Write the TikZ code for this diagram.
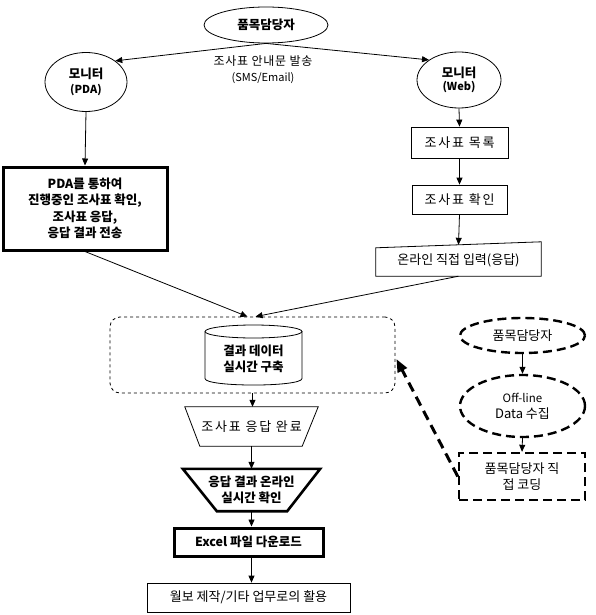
\documentclass[tikz,border=0pt]{standalone}
\usepackage{fontspec}
\setmainfont{Noto Sans CJK KR}
\usetikzlibrary{shapes.geometric,arrows.meta,calc}
\begin{document}
\begin{tikzpicture}[x=1pt,y=-1pt,
  arr/.style={-{Triangle[length=7pt,width=6pt]}, line width=0.8pt},
  bigarr/.style={-{Triangle[length=13pt,width=10pt]}, line width=3pt, dash pattern=on 10pt off 6pt},
  txt/.style={font=\fontsize{13}{16}\selectfont},
  wtxt/.style={font=\fontsize{13}{16}\selectfont\addfontfeatures{LetterSpace=14}},
  btxt/.style={font=\bfseries\fontsize{12.5}{16.5}\selectfont},
  thinbox/.style={draw, line width=0.8pt, inner sep=0pt},
  thickbox/.style={draw, line width=3pt, inner sep=0pt},
  plain/.style={inner sep=0pt},
  ell/.style={ellipse, draw, line width=0.8pt, inner sep=0pt},
  dell/.style={ellipse, draw, line width=2.4pt, dash pattern=on 9pt off 5pt, inner sep=0pt},
  dbox/.style={draw, line width=2.4pt, dash pattern=on 9pt off 5pt, inner sep=0pt},
]
\useasboundingbox (0,0) rectangle (595,615);

% top actor
\node[ell, btxt, minimum width=124pt, minimum height=36pt] (top) at (266,25) {품목담당자};
\node[ell, btxt, align=center, minimum width=82pt, minimum height=59pt] (pda) at (86,82)
  {모니터\\[-2pt]{\fontsize{11}{13}\selectfont (PDA)}};
\node[ell, btxt, align=center, minimum width=84pt, minimum height=56pt] (web) at (459,80)
  {모니터\\[-3pt]{\fontsize{11}{13}\selectfont (Web)}};
\node[plain, txt, align=center] (lbl) at (263,70)
  {\fontsize{12}{16}\selectfont\addfontfeatures{LetterSpace=6}조사표 안내문 발송\\{\fontsize{11}{13}\selectfont (SMS/Email)}};

\draw[arr] (top.south) -- (pda.north east);
\draw[arr] (top.south) -- (web.north west);

% left branch
\node[thickbox, btxt, align=center, minimum width=164pt, minimum height=83pt] (pdabox) at (85,208.5)
  {PDA를 통하여\\진행중인 조사표 확인,\\조사표 응답,\\응답 결과 전송};
\draw[arr] (pda.south) -- (pdabox.north);

% right branch
\node[thinbox, wtxt, minimum width=97pt, minimum height=31pt] (list) at (459.5,142.5) {조사표 목록};
\node[thinbox, wtxt, minimum width=95pt, minimum height=29pt] (chk) at (459.5,199.5) {조사표 확인};
\node[plain, txt, minimum width=165pt, minimum height=31pt] (online) at (458.5,260.5) {\raisebox{-2pt}{온라인 직접 입력(응답)}};
\draw[line width=0.8pt] (online.south west) -- ($(online.north west)+(0,3)$) -- ($(online.north east)+(0,-3)$) -- (online.south east) -- cycle;
\draw[arr] (web.south) -- (list.north);
\draw[arr] (list.south) -- (chk.north);
\draw[arr] (chk.south) -- (online.north);

% dashed group with database
\node[draw, line width=0.8pt, dashed, rounded corners=10pt, minimum width=285pt, minimum height=76pt] (grp) at (252.5,355) {};
\draw[line width=0.8pt, fill=white] (205,331.5) -- (205,378.5) .. controls (205,387.2) and (302,387.2) .. (302,378.5) -- (302,331.5);
\draw[line width=0.8pt] (253.5,331.5) ellipse [x radius=48.5, y radius=6.5];
\node[plain, btxt, align=center] (db) at (253.5,359) {결과 데이터\\실시간 구축};
\coordinate (gA) at ($(grp.north)+(-5,0)$);
\coordinate (gB) at ($(grp.north)+(3,0)$);
\draw[arr] (pdabox.south) -- (gA);
\draw[arr] (online.south) -- (gB);

% lower column
\node[plain, wtxt, minimum width=133pt, minimum height=39pt] (trap1) at (251.5,426.5) {\raisebox{-2pt}{조사표 응답 완료}};
\draw[line width=0.8pt] (trap1.north west) -- (trap1.north east) -- ($(trap1.south east)+(-16,0)$) -- ($(trap1.south west)+(15,0)$) -- cycle;
\node[plain, btxt, align=center, minimum width=137pt, minimum height=42pt] (trap2) at (251.5,490) {응답 결과 온라인\\실시간 확인};
\draw[line width=2.6pt, line join=miter] (trap2.north west) -- (trap2.north east) -- ($(trap2.south east)+(-33,0)$) -- ($(trap2.south west)+(34,0)$) -- cycle;
\node[thickbox, btxt, minimum width=149pt, minimum height=28pt] (excel) at (248.5,542) {Excel 파일 다운로드};
\node[thinbox, txt, minimum width=203pt, minimum height=29pt] (final) at (248.5,597.5) {월보 제작/기타 업무로의 활용};

\draw[arr] (grp.south) -- (grp.south |- trap1.north);
\draw[arr] (trap1.south) -- (trap2.north);
\draw[arr] (trap2.south) -- (trap2.south |- excel.north);
\draw[arr] (trap2.south |- excel.south) -- (trap2.south |- final.north);

% right dashed group
\node[dell, txt, minimum width=125pt, minimum height=35pt] (r1) at (522.5,335.5) {품목담당자};
\node[dell, txt, align=center, minimum width=125pt, minimum height=62pt] (r2) at (522.5,406)
  {{\fontsize{11.5}{15}\selectfont Off-line}\\Data 수집};
\node[dbox, txt, align=center, minimum width=126pt, minimum height=47pt] (r3) at (522,476.5) {품목담당자 직\\접 코딩};
\draw[arr] (r1.south) -- (r2.north);
\draw[arr] (r2.south) -- (r3.north);
\draw[bigarr] (r3.west) -- ($(grp.east)+(1,4)$);
\end{tikzpicture}
\end{document}
